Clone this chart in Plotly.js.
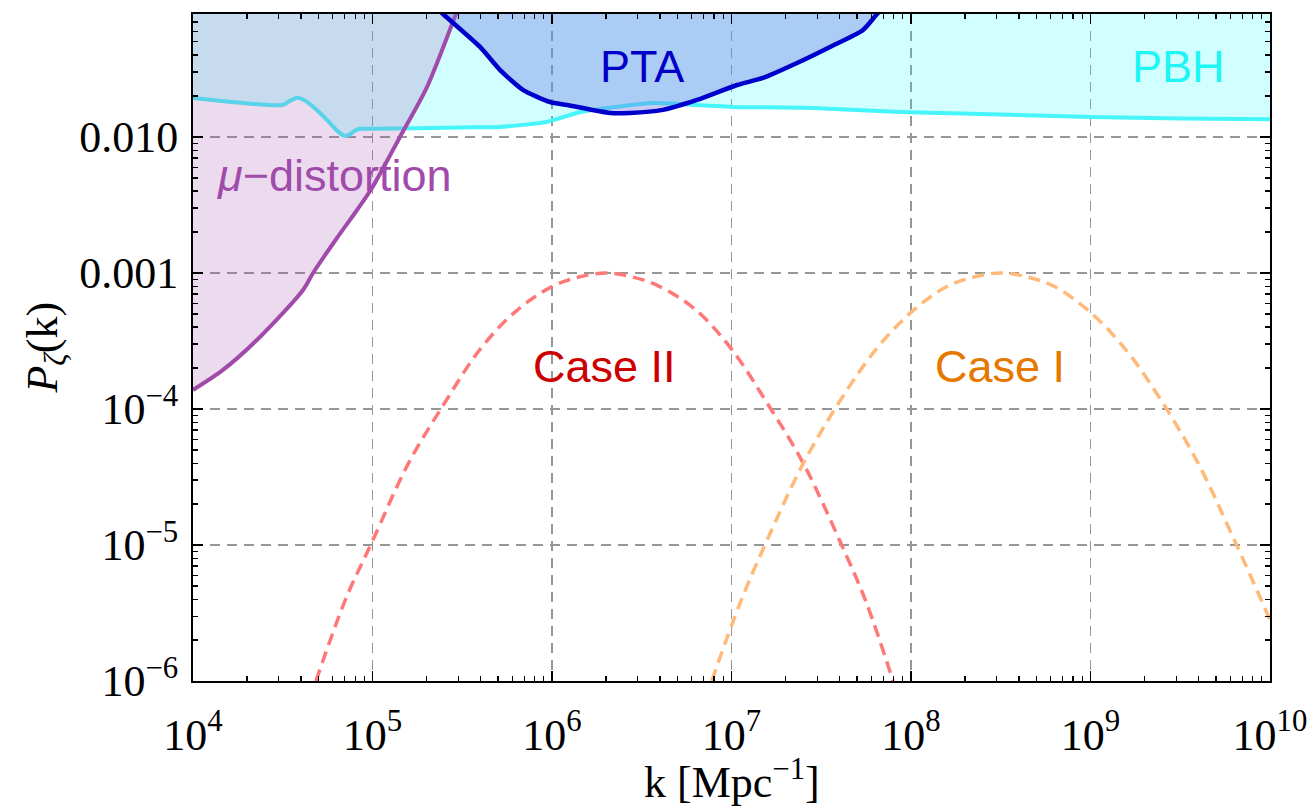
<!DOCTYPE html>
<html>
<head>
<meta charset="utf-8">
<script src="https://cdn.plot.ly/plotly-3.0.1.min.js"></script>
<style>html,body{margin:0;padding:0;background:#fff;}#plot{width:1310px;height:808px;}</style>
</head>
<body>
<div id="plot"></div>
<script>
// ---- data (log10 k [Mpc^-1], log10 P_zeta) ----
const pbhLogK = [4.0, 4.5, 4.54, 4.58, 4.62, 4.68, 4.75, 4.80, 4.84, 4.87, 4.90, 4.93, 5.0, 5.5, 5.71, 5.97, 6.16, 6.40, 6.56, 6.71, 6.90, 7.0, 7.45, 7.94, 8.5, 9.0, 9.5, 10.0];
const pbhLogP = [-1.713, -1.765, -1.735, -1.712, -1.730, -1.790, -1.880, -1.950, -1.990, -1.985, -1.955, -1.940, -1.940, -1.930, -1.926, -1.890, -1.816, -1.772, -1.750, -1.757, -1.772, -1.779, -1.787, -1.816, -1.835, -1.853, -1.865, -1.870];

const muLogK = [4.0, 4.167, 4.373, 4.613, 4.669, 4.802, 4.914, 4.997, 5.153, 5.304, 5.465, 5.53];
const muLogP = [-3.86, -3.713, -3.471, -3.125, -3.0, -2.743, -2.537, -2.375, -2.0, -1.632, -1.096, -0.88];

const ptaLogK = [5.30, 5.393, 5.599, 5.710, 5.838, 5.989, 6.084, 6.323, 6.435, 6.618, 6.808, 7.031, 7.175, 7.365, 7.549, 7.733, 7.811, 7.90];
const ptaLogP = [-0.98, -1.096, -1.338, -1.507, -1.654, -1.743, -1.765, -1.824, -1.824, -1.801, -1.728, -1.618, -1.566, -1.456, -1.338, -1.213, -1.096, -0.98];

const case2LogK = [4.685, 4.85, 5.0, 5.2, 5.4, 5.6, 5.8, 6.0, 6.15, 6.3, 6.45, 6.6, 6.8, 7.0, 7.2, 7.4, 7.6, 7.75, 7.9];
const case2LogP = [-6.0, -5.4, -4.97, -4.40, -3.96, -3.56, -3.28, -3.10, -3.03, -3.0, -3.03, -3.10, -3.27, -3.56, -3.96, -4.40, -4.96, -5.42, -6.0];

const case1LogK = [6.89, 7.05, 7.2, 7.4, 7.6, 7.8, 8.0, 8.2, 8.35, 8.5, 8.65, 8.8, 9.0, 9.2, 9.4, 9.6, 9.8, 10.0];
const case1LogP = [-6.0, -5.42, -4.96, -4.40, -3.95, -3.57, -3.29, -3.10, -3.03, -3.0, -3.03, -3.10, -3.29, -3.57, -3.95, -4.40, -4.96, -5.55];

const xTickVals = [1e4, 1e5, 1e6, 1e7, 1e8, 1e9, 1e10];
const xTickText = ['10<sup>4</sup>', '10<sup>5</sup>', '10<sup>6</sup>', '10<sup>7</sup>', '10<sup>8</sup>', '10<sup>9</sup>', '10<sup>10</sup>'];
const yTickVals = [1e-6, 1e-5, 1e-4, 1e-3, 1e-2];
const yTickText = ['10<sup>−6</sup>', '10<sup>−5</sup>', '10<sup>−4</sup>', '0.001', '0.010'];

// ---- helpers ----
const p10 = a => a.map(v => Math.pow(10, v));
function minorTicks(lo, hi) {
  const out = [];
  for (let e = lo; e < hi; e++) for (let m = 2; m <= 9; m++) out.push(m * Math.pow(10, e));
  return out;
}

const pbhK = p10(pbhLogK), pbhP = p10(pbhLogP);
const muK = p10(muLogK), muP = p10(muLogP);
const ptaK = p10(ptaLogK), ptaP = p10(ptaLogP);

const traces = [
  // PBH region
  {x: pbhK.concat([1e10, 1e4]), y: pbhP.concat([1, 1]), mode: 'lines', fill: 'toself',
   fillcolor: 'rgba(0,255,255,0.18)', line: {width: 0}, hoverinfo: 'skip'},
  {x: pbhK, y: pbhP, mode: 'lines', line: {color: 'rgb(70,245,250)', width: 4, shape: 'spline', smoothing: 0.6}, hoverinfo: 'skip'},
  // mu-distortion region
  {x: muK.concat([1e3, 1e3]), y: muP.concat([muP[muP.length - 1], muP[0]]),
   mode: 'lines', fill: 'toself', fillcolor: 'rgba(160,75,170,0.2)', line: {width: 0, shape: 'spline', smoothing: 0.8}, hoverinfo: 'skip'},
  {x: muK, y: muP, mode: 'lines', line: {color: 'rgb(160,75,170)', width: 4, shape: 'spline', smoothing: 0.8}, hoverinfo: 'skip'},
  // PTA region
  {x: ptaK, y: ptaP, mode: 'lines', fill: 'toself', fillcolor: 'rgba(110,120,225,0.38)', line: {width: 0, shape: 'spline', smoothing: 0.6}, hoverinfo: 'skip'},
  {x: ptaK, y: ptaP, mode: 'lines', line: {color: 'rgb(0,0,205)', width: 4.5, shape: 'spline', smoothing: 0.6}, hoverinfo: 'skip'},
  // Cases
  {x: p10(case2LogK), y: p10(case2LogP), mode: 'lines', line: {color: 'rgb(255,120,120)', width: 3.5, dash: '12px,7px', shape: 'spline'}, hoverinfo: 'skip'},
  {x: p10(case1LogK), y: p10(case1LogP), mode: 'lines', line: {color: 'rgb(255,185,120)', width: 3.5, dash: '12px,7px', shape: 'spline'}, hoverinfo: 'skip'}
];

const tickFont = {family: 'Liberation Serif, Times New Roman, serif', size: 44, color: 'black'};
const axisCommon = {
  type: 'log', tickmode: 'array', ticks: 'inside', ticklen: 10, tickwidth: 1.5, tickcolor: 'black',
  showline: true, linecolor: 'black', linewidth: 2, mirror: 'allticks',
  showgrid: true, gridcolor: 'rgb(150,150,150)', gridwidth: 1.3, griddash: '10px,7px',
  zeroline: false, tickfont: tickFont, fixedrange: true
};

const sans = 'Liberation Sans, Arial, Helvetica, sans-serif';
const serif = 'Liberation Serif, Times New Roman, serif';
const layout = {
  width: 1310, height: 808,
  margin: {l: 193, r: 40, t: 14, b: 127},
  paper_bgcolor: 'white', plot_bgcolor: 'white',
  showlegend: false,
  xaxis: Object.assign({}, axisCommon, {
    range: [4, 10], tickvals: xTickVals, ticktext: xTickText, ticklabelstandoff: 14,
    minor: {tickmode: 'array', tickvals: minorTicks(4, 10), ticks: 'inside', ticklen: 5, tickwidth: 1.2, tickcolor: 'black', showgrid: false}
  }),
  yaxis: Object.assign({}, axisCommon, {
    range: [-6, -1.096], tickvals: yTickVals, ticktext: yTickText, ticklabelstandoff: 4,
    minor: {tickmode: 'array', tickvals: minorTicks(-6, -1), ticks: 'inside', ticklen: 5, tickwidth: 1.2, tickcolor: 'black', showgrid: false}
  }),
  annotations: [
    {x: 6.501, y: -1.485, xref: 'x', yref: 'y', text: 'PTA', showarrow: false, font: {family: sans, size: 45, color: 'rgb(0,0,200)'}},
    {x: 9.493, y: -1.485, xref: 'x', yref: 'y', text: 'PBH', showarrow: false, font: {family: sans, size: 45, color: 'rgb(30,245,245)'}},
    {x: 4.791, y: -2.287, xref: 'x', yref: 'y', text: '<i>μ</i>−distortion', showarrow: false, font: {family: sans, size: 45, color: 'rgb(160,75,170)'}},
    {x: 6.29, y: -3.691, xref: 'x', yref: 'y', text: 'Case II', showarrow: false, font: {family: sans, size: 45, color: 'rgb(204,0,0)'}},
    {x: 8.496, y: -3.691, xref: 'x', yref: 'y', text: 'Case I', showarrow: false, font: {family: sans, size: 45, color: 'rgb(230,120,0)'}},
    {x: -0.1374, y: 0.5, xref: 'paper', yref: 'paper', xanchor: 'center', yanchor: 'middle', text: '<i>P</i><sub><i>ζ</i></sub>(k)', textangle: -90, showarrow: false,
     font: {family: serif, size: 44, color: 'black'}},
    {x: 0.5, y: -0.148, xref: 'paper', yref: 'paper', xanchor: 'center', yanchor: 'middle', text: 'k [Mpc<sup>−1</sup>]', showarrow: false,
     font: {family: serif, size: 44, color: 'black'}}
  ]
};

Plotly.newPlot('plot', traces, layout, {staticPlot: true, displayModeBar: false});
</script>
</body>
</html>
